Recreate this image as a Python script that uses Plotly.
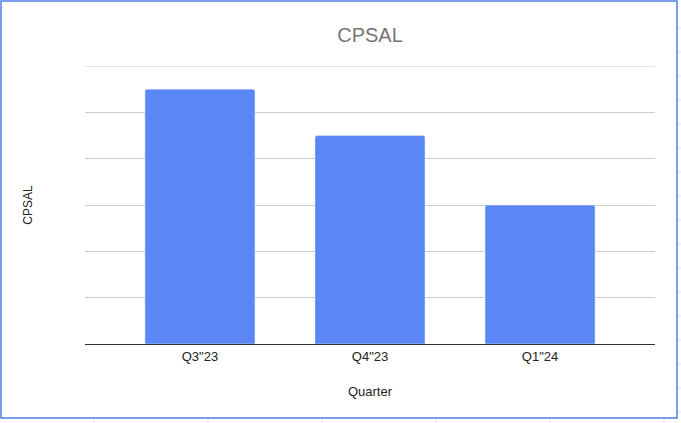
import plotly.graph_objects as go

quarters = ['Q3"23', 'Q4"23', 'Q1"24']
cpsal = [5.5, 4.5, 3.0]

# plot area in pixels: x 85..655, y 66..344
L, R, T, B = 85, 26, 66, 79
W, H = 681, 423
pw, ph = W - L - R, H - T - B


def px_x(x):
    return (x - L) / pw


def px_y(y):
    return (H - B - y) / ph


fig = go.Figure(go.Bar(x=quarters, y=cpsal, marker_color="#5b86f5", width=0.647))

shapes = []
# faint sheet cell lines outside the chart frame
for cx in [94, 208, 322, 436, 550, 664]:
    shapes.append(dict(type="line", xref="paper", yref="paper",
                       x0=px_x(cx), x1=px_x(cx), y0=px_y(418), y1=px_y(423),
                       line=dict(color="#e2e2e2", width=1)))
for cy in [28, 52, 76, 100, 124, 148, 172, 196, 220, 244, 268, 292, 316, 340, 364, 388, 412]:
    shapes.append(dict(type="line", xref="paper", yref="paper",
                       x0=px_x(677), x1=px_x(681), y0=px_y(cy), y1=px_y(cy),
                       line=dict(color="#e2e2e2", width=1)))
# top gridline (plotly drops the one on the plot edge)
shapes.append(dict(type="line", xref="paper", yref="y", x0=0, x1=1, y0=6, y1=6,
                   line=dict(color="#cccccc", width=1), layer="below"))
# chart frame
shapes.append(dict(type="rect", xref="paper", yref="paper",
                   x0=px_x(1), x1=px_x(677), y0=px_y(1), y1=px_y(418),
                   line=dict(color="#4f7de6", width=1.5)))

fig.update_layout(
    width=W, height=H,
    margin=dict(l=L, r=R, t=T, b=B),
    paper_bgcolor="white", plot_bgcolor="white",
    font=dict(family="Liberation Sans, Arial", size=13, color="#222"),
    title=dict(text="CPSAL", x=0.5, xref="paper", y=1 - 35 / H, yanchor="middle",
               font=dict(size=20, color="#757575")),
    barcornerradius=2,
    showlegend=False,
    shapes=shapes,
)
fig.update_xaxes(range=[-0.676, 2.676], showgrid=False, showline=True,
                 linecolor="#333", linewidth=1, ticks="",
                 title=dict(text="Quarter", font=dict(size=13), standoff=24))
fig.update_yaxes(range=[0, 6], dtick=1, showticklabels=False, gridcolor="#cccccc",
                 zeroline=False, title=dict(text="CPSAL", font=dict(size=12), standoff=48))

fig.write_html("out.html", config={"displayModeBar": False},
               post_script="document.body.style.margin='0';")
